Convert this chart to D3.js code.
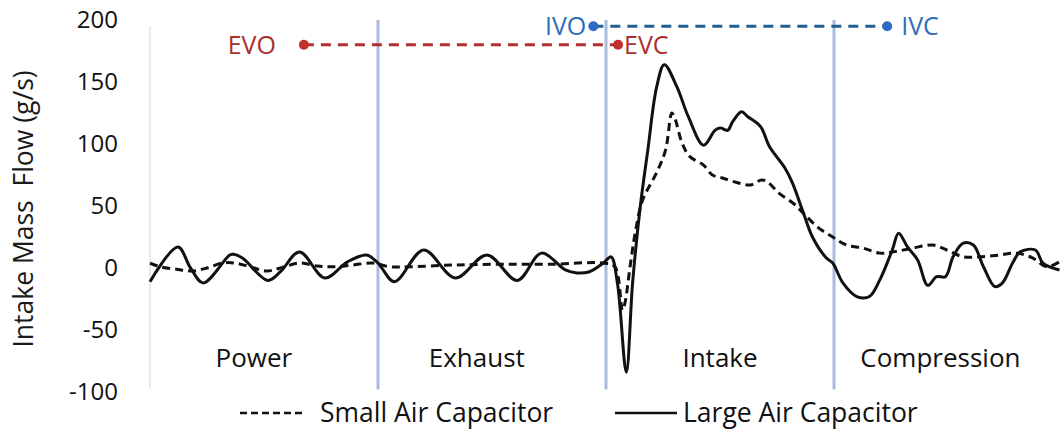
<!DOCTYPE html>
<html>
<head>
<meta charset="utf-8">
<script src="https://cdn.jsdelivr.net/npm/d3@7"></script>
<style>
  html, body { margin: 0; padding: 0; background: #fff; }
  svg { display: block; font-family: "Open Sans", "Noto Sans", sans-serif; }
</style>
</head>
<body>
<svg id="chart" width="1060" height="436"></svg>
<script>
// Crank angle (deg) over one 720° cycle
const largeAngle = [0, 22, 32, 42, 63, 66, 73, 93, 103, 118, 138, 156, 171, 180, 193, 216, 241, 266, 290, 309, 328, 337, 347, 358, 364, 369, 376, 381, 387, 393, 400, 406, 416, 425, 437, 446, 450, 456, 460, 467, 472, 482, 489, 501, 507, 516, 523, 534, 539, 547, 558, 568, 576, 586, 591, 598, 606, 614, 621, 628, 634, 642, 650, 658, 667, 673, 681, 687, 699, 705, 718];
const largeFlow  = [-11, 17, 0, -12, 10.5, 11, 8, -10, -3, 13, -8, 5, 10.5, 4, -11, 14.5, -8, 10.5, -10, 12, -1.6, -4, -3, 4, 9, -12, -84, -12, 49, 95, 146, 164, 146, 122, 99, 111, 113, 111, 118, 126, 122, 114, 98, 81, 69, 44, 25, 8, 4, -12, -23, -23, -10, 14.5, 28, 17, 6.5, -14, -7, -7, 9, 20, 18.5, 1, -15, -12, 4, 13, 14.5, 4, -1.6];

const smallAngle = [0, 8, 21, 34, 45, 57, 67, 79, 92, 103, 118, 132, 144, 160, 176, 189, 205, 239, 276, 316, 358, 367, 373, 375, 379, 383, 389, 400, 407, 412, 414, 420, 426, 437, 444, 452, 463, 474, 483, 488, 497, 508, 516, 527, 539, 550, 563, 576, 587, 602, 618, 629, 642, 655, 671, 684, 697, 708, 718];
const smallFlow  = [4, 1, -1, -2.4, 0, 4, 4, 1, -2.4, 0, 4, 1.6, 1, 2.4, 4, 1, 1, 2.4, 3, 3, 4, 1, -34, -28, 1, 28, 55, 77, 95, 125, 122, 101, 90, 83, 75, 72.6, 69, 67, 71, 69, 60, 52, 44, 33, 25, 18.5, 16, 12, 13, 16, 18.5, 14.5, 9, 9, 10.5, 12, 8, 1, 5];

// Stroke boundaries and names
const strokeBounds = [180, 360, 540];
const strokeNames  = ["Power", "Exhaust", "Intake", "Compression"];
const strokeLabelAngle = [82, 258, 450, 624];

// Valve events: opening / closing angle and the flow level the marker sits at
const exhaustValve = { open: 121.5, close: 369.5, level: 180 };
const intakeValve  = { open: 350, close: 582, level: 195 };

const yTicks = [-100, -50, 0, 50, 100, 150, 200];

const svg = d3.select("#chart");
const x = d3.scaleLinear().domain([0, 720]).range([150, 1062]);
const y = d3.scaleLinear().domain([-100, 200]).range([392, 20]);

// faint left axis line
svg.append("line")
  .attr("x1", x(0)).attr("x2", x(0))
  .attr("y1", y(195)).attr("y2", y(-97))
  .attr("stroke", "#dfe3f0").attr("stroke-width", 1.5);

// Y axis labels (no ticks or domain line)
const yAxis = d3.axisLeft(y).tickValues(yTicks).tickSize(0).tickPadding(0).tickFormat(d => String(d));
const gy = svg.append("g").attr("transform", "translate(118,0)").call(yAxis);
gy.select(".domain").remove();
gy.selectAll("text")
  .attr("font-family", "'Open Sans', sans-serif")
  .attr("font-size", 24)
  .attr("fill", "#111");

// Y title (keeps its double space)
svg.append("text")
  .attr("transform", `translate(33,${209}) rotate(-90)`)
  .attr("text-anchor", "middle")
  .attr("font-size", 26.5)
  .attr("fill", "#1a1a1a")
  .style("white-space", "pre")
  .text("Intake Mass  Flow (g/s)");

// Stroke dividers
svg.selectAll("line.divider")
  .data(strokeBounds)
  .join("line")
  .attr("class", "divider")
  .attr("x1", d => x(d)).attr("x2", d => x(d))
  .attr("y1", y(200)).attr("y2", y(-98))
  .attr("stroke", "#a9bbdc").attr("stroke-width", 3);

// Stroke names
svg.selectAll("text.stroke")
  .data(strokeNames)
  .join("text")
  .attr("class", "stroke")
  .attr("x", (d, i) => x(strokeLabelAngle[i]))
  .attr("y", 367)
  .attr("text-anchor", "middle")
  .attr("font-size", 26)
  .attr("fill", "#111")
  .text(d => d);

// Valve event lines
function valveLine(v, lineColor, dotColor) {
  svg.append("line")
    .attr("x1", x(v.open)).attr("x2", x(v.close))
    .attr("y1", y(v.level)).attr("y2", y(v.level))
    .attr("stroke", lineColor).attr("stroke-width", 3)
    .attr("stroke-dasharray", "10,7");
  svg.selectAll(null)
    .data([v.open, v.close])
    .join("circle")
    .attr("cx", d => x(d)).attr("cy", y(v.level))
    .attr("r", 5).attr("fill", dotColor);
}
valveLine(exhaustValve, "#b22f2f", "#c0302c");
valveLine(intakeValve, "#1f5f92", "#2f6bc6");

const evColor = "#a8302e", ivColor = "#2e6db8";
const valveFont = 25;
svg.append("text").attr("x", x(exhaustValve.open) - 28).attr("y", y(exhaustValve.level) + 9)
  .attr("text-anchor", "end").attr("font-size", valveFont).attr("fill", evColor).text("EVO");
svg.append("text").attr("x", x(exhaustValve.close) + 6).attr("y", y(exhaustValve.level) + 9)
  .attr("text-anchor", "start").attr("font-size", valveFont).attr("fill", evColor).text("EVC");
svg.append("text").attr("x", x(intakeValve.open) - 7).attr("y", y(intakeValve.level) + 9)
  .attr("text-anchor", "end").attr("font-size", valveFont).attr("fill", ivColor).text("IVO");
svg.append("text").attr("x", x(intakeValve.close) + 14).attr("y", y(intakeValve.level) + 9)
  .attr("text-anchor", "start").attr("font-size", valveFont).attr("fill", ivColor).text("IVC");

// Flow curves
const line = d3.line()
  .x(d => x(d[0])).y(d => y(d[1]))
  .curve(d3.curveCatmullRom.alpha(0.5));

const smallPts = smallAngle.map((a, i) => [a, smallFlow[i]]);
const largePts = largeAngle.map((a, i) => [a, largeFlow[i]]);

svg.append("path").datum(smallPts)
  .attr("d", line).attr("fill", "none")
  .attr("stroke", "#111").attr("stroke-width", 3)
  .attr("stroke-dasharray", "8,5");

svg.append("path").datum(largePts)
  .attr("d", line).attr("fill", "none")
  .attr("stroke", "#111").attr("stroke-width", 3)
  .attr("stroke-linejoin", "round");

// Legend
const legend = svg.append("g");
legend.append("line").attr("x1", 240).attr("x2", 303).attr("y1", 413).attr("y2", 413)
  .attr("stroke", "#111").attr("stroke-width", 2.5).attr("stroke-dasharray", "7,4");
legend.append("text").attr("x", 320).attr("y", 422).attr("font-size", 26.5).attr("fill", "#111")
  .text("Small Air Capacitor");
legend.append("line").attr("x1", 615).attr("x2", 677).attr("y1", 413).attr("y2", 413)
  .attr("stroke", "#111").attr("stroke-width", 2.5);
legend.append("text").attr("x", 683).attr("y", 422).attr("font-size", 26.5).attr("fill", "#111")
  .text("Large Air Capacitor");
</script>
</body>
</html>
